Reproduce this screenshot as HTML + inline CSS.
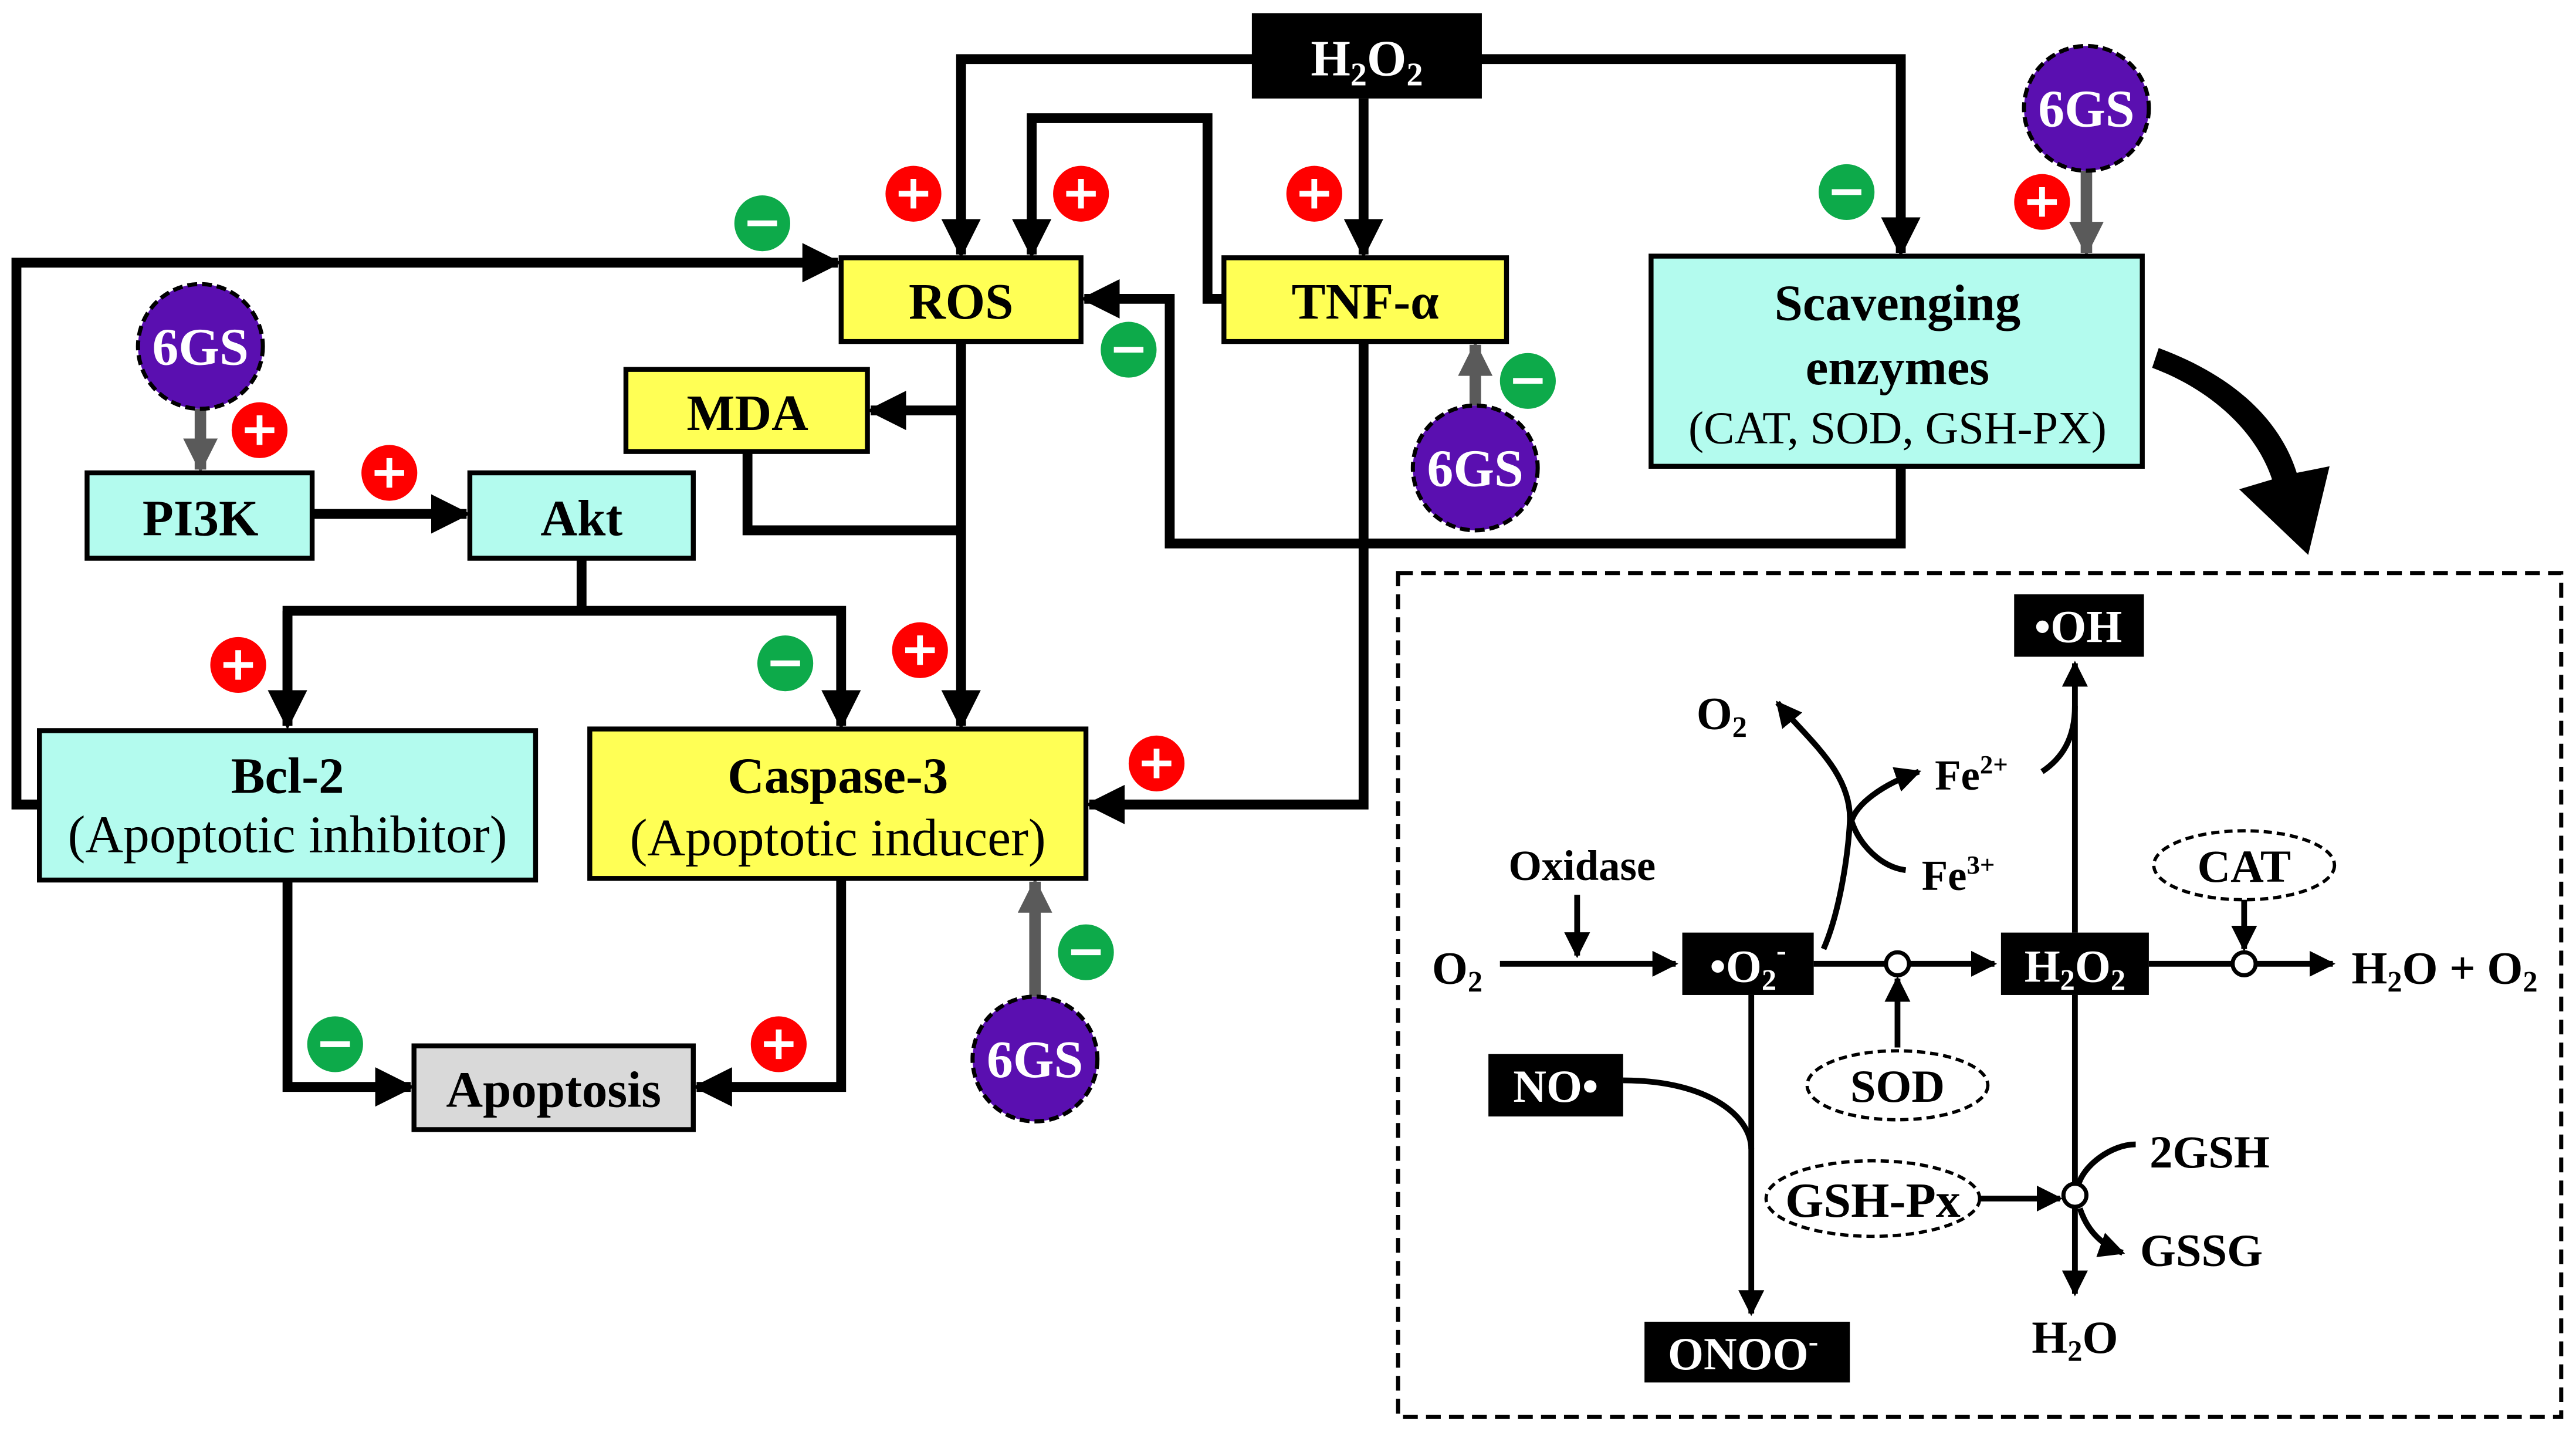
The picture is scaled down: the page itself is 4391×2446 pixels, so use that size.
<!DOCTYPE html>
<html><head><meta charset="utf-8"><style>html,body{margin:0;padding:0;background:#fff}svg{display:block}</style></head><body>
<svg width="4391" height="2446" viewBox="0 0 1568 874" preserveAspectRatio="none" xmlns="http://www.w3.org/2000/svg" font-family="'Liberation Serif',serif" font-weight="bold">
<defs>
<marker id="a" viewBox="0 0 10 10" refX="9" refY="5" markerWidth="4" markerHeight="4" orient="auto" markerUnits="strokeWidth"><path d="M0,0L10,5L0,10z" fill="#000"/></marker>
<marker id="g" viewBox="0 0 10 10" refX="9" refY="5" markerWidth="3.5" markerHeight="3" orient="auto" markerUnits="strokeWidth"><path d="M0,0L10,5L0,10z" fill="#5a5a5a"/></marker>
<marker id="s" viewBox="0 0 10 10" refX="9" refY="5" markerWidth="4.5" markerHeight="4.5" orient="auto" markerUnits="strokeWidth"><path d="M0,0L10,5L0,10z" fill="#000"/></marker>
</defs>
<g fill="none" stroke="#000" stroke-width="6">
<path d="M765,36H585V155" marker-end="url(#a)"/>
<path d="M900,36H1157V154" marker-end="url(#a)"/>
<path d="M830,60V155" marker-end="url(#a)"/>
<path d="M745,182H735V72H628V155" marker-end="url(#a)"/>
<path d="M1157,284V331H712V182H660" marker-end="url(#a)"/>
<path d="M24,490H10V160H510" marker-end="url(#a)"/>
<path d="M585,208V442" marker-end="url(#a)"/>
<path d="M585,250H530" marker-end="url(#a)"/>
<path d="M455,275V323H585"/>
<path d="M190,313H284" marker-end="url(#a)"/>
<path d="M354,340V372"/>
<path d="M175,442V372H512V442" marker-end="url(#a)"/>
<path d="M830,208V490H663" marker-end="url(#a)"/>
<path d="M175,536V662H250" marker-end="url(#a)"/>
<path d="M512,535V662H424" marker-end="url(#a)"/>
</g>
<path d="M175,372V442" stroke="#000" stroke-width="6" marker-end="url(#a)"/>
<g stroke="#5a5a5a" stroke-width="7" fill="none">
<path d="M122,249V286" marker-end="url(#g)"/>
<path d="M898,247V210" marker-end="url(#g)"/>
<path d="M1270,104V154" marker-end="url(#g)"/>
<path d="M630,607V537" marker-end="url(#g)"/>
</g>
<rect x="762" y="8" width="140" height="52" fill="#000"/>
<text x="832" y="46" fill="#fff" font-size="31" text-anchor="middle">H<tspan font-size="20" dy="6">2</tspan><tspan dy="-6">O</tspan><tspan font-size="20" dy="6">2</tspan></text>
<g stroke="#000" stroke-width="3">
<rect x="512" y="157" width="146" height="51" fill="#ffff55"/>
<rect x="745" y="157" width="172" height="51" fill="#ffff55"/>
<rect x="1005" y="156" width="299" height="128" fill="#b3fbee"/>
<rect x="381" y="225" width="147" height="50" fill="#ffff55"/>
<rect x="53" y="288" width="137" height="52" fill="#b3fbee"/>
<rect x="286" y="288" width="136" height="52" fill="#b3fbee"/>
<rect x="24" y="445" width="302" height="91" fill="#b3fbee"/>
<rect x="359" y="444" width="302" height="91" fill="#ffff55"/>
<rect x="252" y="637" width="170" height="51" fill="#d9d9d9"/>
</g>
<g font-size="31" text-anchor="middle" fill="#000">
<text x="585" y="194">ROS</text>
<text x="831" y="194">TNF-α</text>
<text x="1155" y="195">Scavenging</text>
<text x="1155" y="234">enzymes</text>
<text x="1155" y="270" font-weight="normal" font-size="28">(CAT, SOD, GSH-PX)</text>
<text x="455" y="262">MDA</text>
<text x="122" y="326">PI3K</text>
<text x="354" y="326">Akt</text>
<text x="175" y="483">Bcl-2</text>
<text x="175" y="519" font-weight="normal" font-size="32">(Apoptotic inhibitor)</text>
<text x="510" y="483">Caspase-3</text>
<text x="510" y="521" font-weight="normal" font-size="32">(Apoptotic inducer)</text>
<text x="337" y="674">Apoptosis</text>
</g>
<g stroke="#000" stroke-width="2.5" stroke-dasharray="6,3" fill="#5a0fb0">
<circle cx="122" cy="211" r="38"/><circle cx="898" cy="285" r="38"/><circle cx="1270" cy="66" r="38"/><circle cx="630" cy="645" r="38"/>
</g>
<g fill="#fff" font-size="32" text-anchor="middle">
<text x="122" y="222">6GS</text><text x="898" y="296">6GS</text><text x="1270" y="77">6GS</text><text x="630" y="656">6GS</text>
</g>
<g fill="#f00">
<circle cx="556" cy="118" r="17"/><circle cx="658" cy="118" r="17"/><circle cx="800" cy="118" r="17"/><circle cx="1243" cy="123" r="17"/><circle cx="158" cy="262" r="17"/><circle cx="237" cy="288" r="17"/><circle cx="145" cy="405" r="17"/><circle cx="560" cy="396" r="17"/><circle cx="704" cy="465" r="17"/><circle cx="474" cy="636" r="17"/>
</g>
<g fill="#0daa4a">
<circle cx="464" cy="136" r="17"/><circle cx="687" cy="213" r="17"/><circle cx="930" cy="232" r="17"/><circle cx="1124" cy="117" r="17"/><circle cx="478" cy="404" r="17"/><circle cx="661" cy="580" r="17"/><circle cx="204" cy="636" r="17"/>
</g>
<g stroke="#fff" stroke-width="3.5">
<path d="M547,118h18M556,109v18M649,118h18M658,109v18M791,118h18M800,109v18M1234,123h18M1243,114v18M149,262h18M158,253v18M228,288h18M237,279v18M136,405h18M145,396v18M551,396h18M560,387v18M695,465h18M704,456v18M465,636h18M474,627v18"/>
<path d="M455,136h18M678,213h18M921,232h18M1115,117h18M469,404h18M652,580h18M195,636h18"/>
</g>
<path d="M1310,224C1345,237 1373,262 1383,292L1363,298L1405,338L1418,284L1398,288C1386,250 1352,226 1314,212Z" fill="#000"/>
<rect x="851" y="349" width="708" height="514" fill="none" stroke="#000" stroke-width="2.5" stroke-dasharray="9,5"/>
<g fill="#000">
<rect x="1226" y="362" width="79" height="38"/>
<rect x="1024" y="568" width="80" height="38"/>
<rect x="1218" y="568" width="90" height="38"/>
<rect x="906" y="642" width="82" height="38"/>
<rect x="1001" y="805" width="125" height="37"/>
</g>
<g fill="#fff" font-size="28" text-anchor="middle">
<text x="1265" y="391">•OH</text>
<text x="1064" y="598">•O<tspan font-size="18" dy="5">2</tspan><tspan font-size="18" dy="-18">-</tspan></text>
<text x="1263" y="598">H<tspan font-size="18" dy="5">2</tspan><tspan dy="-5">O</tspan><tspan font-size="18" dy="5">2</tspan></text>
<text x="947" y="671">NO•</text>
<text x="1061" y="834">ONOO<tspan font-size="18" dy="-11">-</tspan></text>
</g>
<g stroke="#000" stroke-width="3.5" fill="none">
<path d="M913,587H1020" marker-end="url(#s)"/>
<path d="M960,545V582" marker-end="url(#s)"/>
<path d="M1104,587H1148M1162,587H1214" marker-end="url(#s)"/>
<path d="M1155,638V596" marker-end="url(#s)"/>
<path d="M1308,587H1359M1373,587H1420" marker-end="url(#s)"/>
<path d="M1366,548V578" marker-end="url(#s)"/>
<path d="M1263,568V404" marker-end="url(#s)"/>
<path d="M1243,470C1255,462 1263,450 1263,430"/>
<path d="M1110,578C1120,555 1125,520 1126,500C1127,470 1100,450 1082,428" marker-end="url(#s)"/>
<path d="M1127,500C1130,490 1145,478 1168,470" marker-end="url(#s)"/>
<path d="M1127,500C1132,515 1145,528 1160,530"/>
<path d="M1066,606V800" marker-end="url(#s)"/>
<path d="M988,658C1040,658 1066,680 1066,700"/>
<path d="M1263,606V721M1263,735V788" marker-end="url(#s)"/>
<path d="M1205,730H1254" marker-end="url(#s)"/>
<path d="M1300,697C1285,697 1268,710 1265,722"/>
<path d="M1266,736C1270,748 1278,758 1292,763" marker-end="url(#s)"/>
</g>
<g fill="#fff" stroke="#000" stroke-width="2.5">
<circle cx="1155" cy="587" r="7"/><circle cx="1366" cy="587" r="7"/><circle cx="1263" cy="728" r="7"/>
</g>
<g fill="#fff" stroke="#000" stroke-width="2" stroke-dasharray="5,3">
<ellipse cx="1155" cy="661" rx="55" ry="21"/><ellipse cx="1366" cy="527" rx="55" ry="21"/><ellipse cx="1140" cy="730" rx="65" ry="23"/>
</g>
<g font-size="28" text-anchor="middle" fill="#000">
<text x="1155" y="671">SOD</text><text x="1366" y="537">CAT</text><text x="1140" y="741" font-size="30">GSH-Px</text>
<text x="963" y="536" font-size="26">Oxidase</text>
<text x="887" y="599">O<tspan font-size="18" dy="5">2</tspan></text>
<text x="1048" y="444">O<tspan font-size="18" dy="5">2</tspan></text>
<text x="1200" y="481" font-size="26">Fe<tspan font-size="16" dy="-10">2+</tspan></text>
<text x="1192" y="542" font-size="26">Fe<tspan font-size="16" dy="-10">3+</tspan></text>
<text x="1488" y="599">H<tspan font-size="18" dy="5">2</tspan><tspan dy="-5">O + O</tspan><tspan font-size="18" dy="5">2</tspan></text>
<text x="1345" y="711">2GSH</text>
<text x="1340" y="771">GSSG</text>
<text x="1263" y="824">H<tspan font-size="18" dy="5">2</tspan><tspan dy="-5">O</tspan></text>
</g>
</svg>
</body></html>
